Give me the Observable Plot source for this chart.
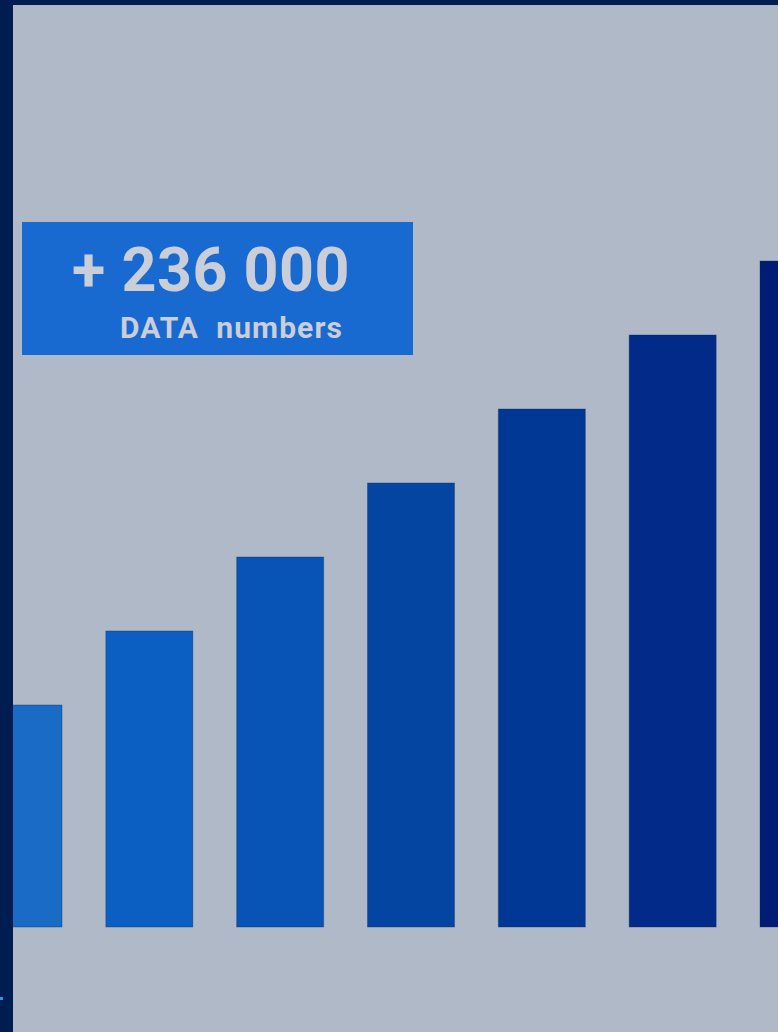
<!DOCTYPE html>
<html>
<head>
<meta charset="utf-8">
<script src="https://cdn.jsdelivr.net/npm/d3@7"></script>
<script src="https://cdn.jsdelivr.net/npm/@observablehq/plot@0.6"></script>
<style>
  html, body { margin: 0; padding: 0; }
  body { width: 778px; height: 1032px; background: #001d52; position: relative; overflow: hidden; font-family: Roboto, "Noto Sans", sans-serif; }
  #panel { position: absolute; left: 13px; top: 5px; width: 765px; height: 1027px; background: #b0b9c8; overflow: hidden; }
  #panel svg { display: block; overflow: hidden; }
  #badge { position: absolute; left: 9px; top: 217px; width: 391px; height: 133px; background: #196ad0; color: #c9ced8; font-weight: 700; }
  #badge .big { position: absolute; left: 50px; top: 12px; font-size: 61px; line-height: 72px; letter-spacing: 0.5px; white-space: pre; }
  #badge .small { position: absolute; left: 98px; top: 88px; font-size: 30px; line-height: 36px; letter-spacing: 1.1px; white-space: pre; }
  #dot { position: absolute; left: 0; top: 997px; width: 3px; height: 3px; background: #1aa0e0; }
</style>
</head>
<body>
<div id="panel"></div>
<div id="dot"></div>
<script>
const categories = ["A", "B", "C", "D", "E", "F", "G"];
const values = [3, 4, 5, 6, 7, 8, 9];
const barColors = ["#196bc6", "#0b5fc2", "#0853b6", "#0445a1", "#023895", "#022a88", "#001c75"];
const headline = "+ 236 000";
const subline = "DATA  numbers";

const data = categories.map((c, i) => ({cat: c, value: values[i], color: barColors[i]}));

const chart = Plot.plot({
  width: 765,
  height: 1027,
  margin: 0,
  style: {background: "transparent", overflow: "hidden"},
  x: {type: "band", domain: categories, range: [-38, 834], paddingInner: 0.335, paddingOuter: 0, round: false, axis: null},
  y: {domain: [0, 10], range: [922, 182], axis: null},
  marks: [
    Plot.barY(data, {x: "cat", y: "value", fill: "color", stroke: "#0a2a5a", strokeOpacity: 0.35, strokeWidth: 1})
  ]
});

const panel = document.getElementById("panel");
panel.appendChild(chart);

const badge = document.createElement("div");
badge.id = "badge";
const big = document.createElement("div");
big.className = "big";
big.textContent = headline;
const small = document.createElement("div");
small.className = "small";
small.textContent = subline;
badge.appendChild(big);
badge.appendChild(small);
panel.appendChild(badge);
</script>
</body>
</html>
